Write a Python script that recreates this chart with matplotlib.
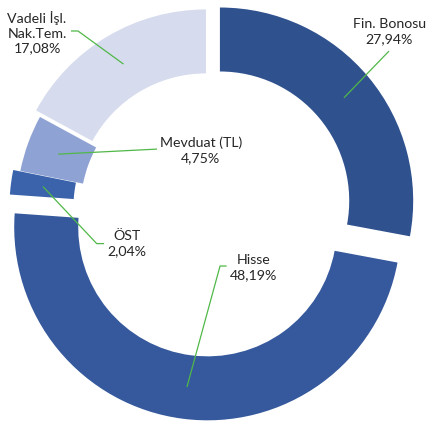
import numpy as np
import matplotlib
matplotlib.use("Agg")
import matplotlib.pyplot as plt

plt.rcParams['font.family'] = ['Lato', 'DejaVu Sans']

# Portfolio distribution (%), clockwise from 12 o'clock
categories = ["Fin. Bonosu", "Hisse", "ÖST", "Mevduat (TL)", "Vadeli İşl.\nNak.Tem."]
shares = [27.94, 48.19, 2.04, 4.75, 17.08]
share_labels = ["27,94%", "48,19%", "2,04%", "4,75%", "17,08%"]

colors = ["#2F528F", "#35599C", "#3A63AC", "#8FA2D4", "#D6DCEE"]
explode = [0.068, 0.093, 0.037, 0.0, 0.039]
ring_width = 0.331

# label text centres and leader line anchors (data units, pie radius = 1)
label_pos = [(0.930, 0.917), (0.229, -0.302), (-0.428, -0.180), (-0.046, 0.303), (-0.894, 0.914)]
line_start = [(0.927, 0.818), (0.087, -0.294), (-0.547, -0.178), (-0.273, 0.311), (-0.718, 0.922)]
elbow_dx = [0.0, -0.034, -0.038, 0.0, 0.036]

TEXT_COLOR = "#262626"
LINE_COLOR = "#50B848"

fig = plt.figure(figsize=(4.27, 4.26), dpi=100)
ax = fig.add_axes([0, 0, 1, 1])

wedges, _ = ax.pie(shares, colors=colors, explode=explode, startangle=90,
                   counterclock=False, radius=1,
                   wedgeprops=dict(width=ring_width, linewidth=0))

for i, w in enumerate(wedges):
    # leader line ends in the middle of the ring, at the wedge's mid angle
    mid = np.deg2rad((w.theta1 + w.theta2) / 2)
    r_mid = w.r - w.width / 2
    end = (w.center[0] + r_mid * np.cos(mid), w.center[1] + r_mid * np.sin(mid))
    sx, sy = line_start[i]
    ex = sx + elbow_dx[i]
    ax.plot([sx, ex, end[0]], [sy, sy, end[1]], color=LINE_COLOR, lw=0.9,
            solid_capstyle='butt', zorder=3)

    tx, ty = label_pos[i]
    ax.text(tx, ty, f"{categories[i]}\n{share_labels[i]}", ha='center', va='center',
            multialignment='center', fontsize=10.2, color=TEXT_COLOR,
            linespacing=1.3, zorder=4)

ax.set_xlim(-1.0854, 1.1237)
ax.set_ylim(-1.1216, 1.0823)
ax.set_aspect('auto')
ax.axis('off')

fig.savefig("out.png", dpi=100)
